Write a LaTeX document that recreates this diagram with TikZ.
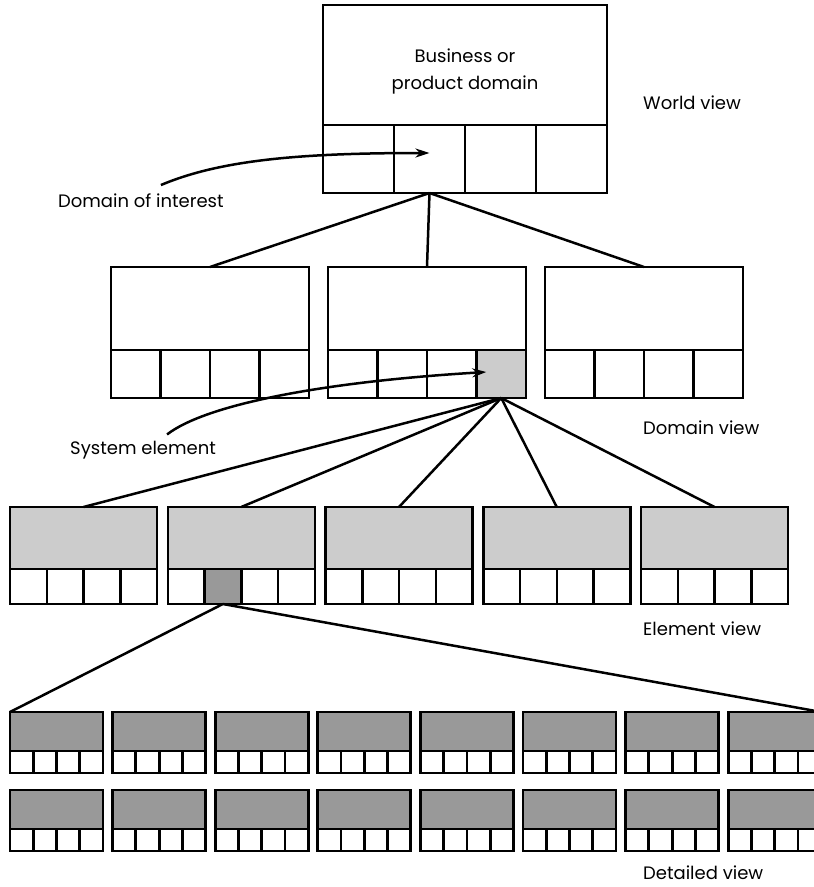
\documentclass[tikz,border=0pt]{standalone}
\usepackage{fontspec}
\setmainfont{Poppins}
\usetikzlibrary{arrows.meta}

\definecolor{lightgrey}{HTML}{CCCCCC}
\definecolor{midgrey}{HTML}{999999}

\tikzset{
  box/.style={draw, line width=2.5pt, inner sep=0pt, outer sep=0pt, anchor=north west},
  link/.style={line width=2.5pt},
  viewlabel/.style={anchor=base west, inner sep=0pt, font=\fontsize{18}{22}\selectfont},
}

\begin{document}
\begin{tikzpicture}[x=1pt, y=-1pt, >={Stealth[length=14pt,width=9pt]}]
    \useasboundingbox (0,0) rectangle (814,887);
    \clip (0,0) rectangle (814,887);

    % world view
    \node[box, minimum width=284pt, minimum height=120pt] (world) at (323,5) {};
    \foreach \j in {1,...,4}
        \node[box, minimum width=71pt, minimum height=68pt] (world-\j) at ({323+71*(\j-1)},125) {};
    \node[align=center, inner sep=0pt, font=\fontsize{18}{27}\selectfont] (business) at (465,71) {Business or\\product domain};

    % domain view
    \foreach \i in {1,2,3} {
        \pgfmathsetmacro\bx{111+217*(\i-1)}
        \node[box, minimum width=198pt, minimum height=83pt] (dom-\i) at (\bx,267) {};
        \foreach \j in {1,...,4} {
            \ifnum\i\j=24 \def\cellfill{lightgrey}\else\def\cellfill{white}\fi
            \node[box, fill=\cellfill, minimum width=49.5pt, minimum height=48pt] (dom-\i-\j) at ({\bx+49.5*(\j-1)},350) {};
        }
    }

    % element view
    \foreach \i in {1,...,5} {
        \pgfmathsetmacro\bx{10+157.75*(\i-1)}
        \node[box, fill=lightgrey, minimum width=147pt, minimum height=62pt] (el-\i) at (\bx,507) {};
        \foreach \j in {1,...,4} {
            \ifnum\i\j=22 \def\cellfill{midgrey}\else\def\cellfill{white}\fi
            \node[box, fill=\cellfill, minimum width=36.75pt, minimum height=35pt] (el-\i-\j) at ({\bx+36.75*(\j-1)},569) {};
        }
    }

    % detailed view
    \foreach \r/\y in {1/712, 2/790} {
        \foreach \i in {1,...,8} {
            \pgfmathsetmacro\bx{10+102.6*(\i-1)}
            \node[box, line width=2.8pt, fill=midgrey, minimum width=93pt, minimum height=39pt] (det-\r-\i) at (\bx,\y) {};
            \foreach \j in {1,...,4}
                \node[box, line width=2.8pt, fill=white, minimum width=23.25pt, minimum height=22pt] (det-\r-\i-\j) at ({\bx+23.25*(\j-1)},\y+39) {};
        }
    }

    % fan-out lines
    \foreach \i in {1,2,3}
        \draw[link] (world-2.south) -- (dom-\i.north);
    \foreach \i in {1,...,5}
        \draw[link] (dom-2-4.south) -- (el-\i.north);
    \draw[link] (el-2-2.south) -- (det-1-1.north west);
    \draw[link] (el-2-2.south) -- (det-1-8.north east);

    % callouts
    \node[viewlabel] (interest) at (58,207) {Domain of interest};
    \node[viewlabel] (syselem) at (70,454) {System element};
    \draw[link, ->] ([xshift=20pt,yshift=8pt]interest.north) .. controls (220,160) and (300,153) .. ([yshift=6pt]world-2.center);
    \draw[link, ->] ([xshift=24pt,yshift=6pt]syselem.north) .. controls (205,405) and (320,382) .. ([xshift=-15pt,yshift=2pt]dom-2-4.center);

    % view labels
    \node[viewlabel] (worldview) at (643,109) {World view};
    \node[viewlabel] (domview) at (643,434) {Domain view};
    \node[viewlabel] (elview) at (643,635) {Element view};
    \node[viewlabel] (detview) at (643,879) {Detailed view};
\end{tikzpicture}
\end{document}
